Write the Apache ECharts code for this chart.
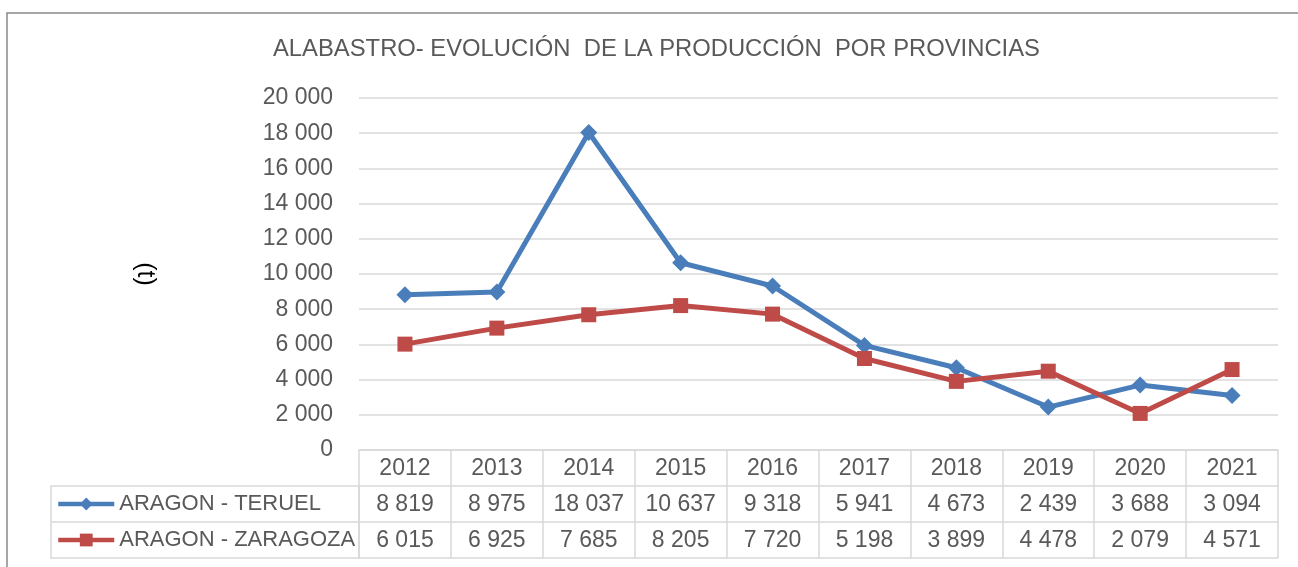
<!DOCTYPE html>
<html>
<head>
<meta charset="utf-8">
<script src="https://cdn.jsdelivr.net/npm/echarts@6/dist/echarts.min.js"></script>
<style>
  html, body { margin: 0; background: #fff; }
  #chart { width: 1298px; height: 567px; }
</style>
</head>
<body>
<div id="chart"></div>
<script>
const years = ["2012", "2013", "2014", "2015", "2016", "2017", "2018", "2019", "2020", "2021"];
const teruel = [8819, 8975, 18037, 10637, 9318, 5941, 4673, 2439, 3688, 3094];
const zaragoza = [6015, 6925, 7685, 8205, 7720, 5198, 3899, 4478, 2079, 4571];
const seriesNames = ["ARAGON - TERUEL", "ARAGON - ZARAGOZA"];

const FONT = "Liberation Sans";
const TEXT = "#595959";
const GRID_LINE = "#d9d9d9";
const BLUE = "#4a7ebb";
const RED = "#be4b48";

// 8819 -> "8 819"
function fmt(v) {
  return String(v).replace(/\B(?=(\d{3})+(?!\d))/g, " ");
}

const chart = echarts.init(document.getElementById("chart"));

const labelStyle = { color: TEXT, fontFamily: FONT, fontSize: 23, interval: 0, margin: 7 };
const lineStyle = { lineStyle: { color: GRID_LINE, width: 1.5 } };

function tableRow(data, offset, showLabel) {
  return {
    type: "category",
    data,
    position: "bottom",
    offset,
    axisLine: { show: true, ...lineStyle },
    axisTick: { show: false },
    axisLabel: { ...labelStyle, show: showLabel },
  };
}

function legendRow(name, top) {
  return {
    data: [name],
    left: 56, top, padding: 0,
    itemWidth: 56, itemHeight: 16,
    lineStyle: { width: 4.5 },
    textStyle: { color: TEXT, fontFamily: FONT, fontSize: 22 },
  };
}

chart.setOption({
  animation: false,
  textStyle: { fontFamily: FONT },
  title: {
    text: "ALABASTRO- EVOLUCIÓN  DE LA PRODUCCIÓN  POR PROVINCIAS",
    left: 273,
    top: 37,
    padding: 0,
    textStyle: { color: TEXT, fontFamily: FONT, fontSize: 23.8, fontWeight: "normal" },
  },
  grid: { left: 359, right: 20, top: 98, bottom: 117 },
  legend: [legendRow(seriesNames[0], 493), legendRow(seriesNames[1], 529)],
  xAxis: [
    {
      type: "category",
      data: years,
      axisLine: { show: true, ...lineStyle },
      axisTick: { show: true, interval: 0, length: 108, ...lineStyle },
      axisLabel: labelStyle,
    },
    tableRow(teruel.map(fmt), 36, true),
    tableRow(zaragoza.map(fmt), 72, true),
    tableRow(years, 108, false),
  ],
  yAxis: {
    type: "value",
    min: 0,
    max: 20000,
    interval: 2000,
    name: "(t)",
    nameLocation: "middle",
    nameRotate: -90,
    nameGap: 202,
    nameTextStyle: { color: "#000", fontFamily: FONT, fontSize: 25 },
    axisLine: { show: false },
    axisTick: { show: false },
    axisLabel: { color: TEXT, fontFamily: FONT, fontSize: 23, margin: 26, formatter: fmt },
    splitLine: { lineStyle: { color: GRID_LINE, width: 1.5 } },
  },
  series: [
    {
      name: seriesNames[0],
      type: "line",
      data: teruel,
      symbol: "diamond",
      symbolSize: 17,
      lineStyle: { color: BLUE, width: 5 },
      itemStyle: { color: BLUE },
    },
    {
      name: seriesNames[1],
      type: "line",
      data: zaragoza,
      symbol: "rect",
      symbolSize: 15,
      lineStyle: { color: RED, width: 5 },
      itemStyle: { color: RED },
    },
  ],
  graphic: [
    {
      type: "rect",
      shape: { x: 7, y: 13, width: 1400, height: 700 },
      style: { fill: "none", stroke: "#898989", lineWidth: 1.5 },
      silent: true,
    },
    {
      type: "rect",
      shape: { x: 51, y: 486, width: 308, height: 72 },
      style: { fill: "none", stroke: GRID_LINE, lineWidth: 1.5 },
      silent: true,
    },
    {
      type: "line",
      shape: { x1: 51, y1: 522, x2: 359, y2: 522 },
      style: { stroke: GRID_LINE, lineWidth: 1.5 },
      silent: true,
    },
  ],
});
</script>
</body>
</html>
